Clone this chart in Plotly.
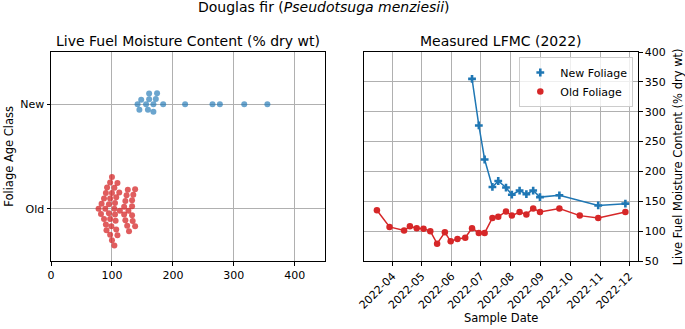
import numpy as np
import plotly.graph_objects as go

# ---------------- data ----------------
categories = ["Old", "New"]

new_swarm = [142, 145, 148, 156, 159, 161, 161, 168, 168, 172, 174, 184,
             220, 265, 277, 317, 355]
old_swarm = [78, 82, 83, 87, 87, 89, 90, 90, 91, 92, 95, 95, 97, 97, 97, 97,
             99, 100, 100, 100, 104, 104, 104, 105, 105, 106, 107, 107, 109,
             109, 112, 113, 120, 120, 122, 122, 124, 125, 126, 127, 128, 133,
             133, 133, 134, 135, 138, 138]

new_dates = ["2022-06-22", "2022-06-29", "2022-07-05", "2022-07-13", "2022-07-19",
             "2022-07-27", "2022-08-02", "2022-08-10", "2022-08-17", "2022-08-24",
             "2022-08-31", "2022-09-20", "2022-10-30", "2022-11-27"]
new_lfmc = [355, 277, 220, 174, 184, 173, 161, 168, 162, 168, 157, 160, 143, 146]

old_dates = ["2022-03-16", "2022-03-29", "2022-04-13", "2022-04-19", "2022-04-26",
             "2022-05-03", "2022-05-10", "2022-05-17", "2022-05-25", "2022-05-31",
             "2022-06-07", "2022-06-15", "2022-06-22", "2022-06-29", "2022-07-05",
             "2022-07-13", "2022-07-19", "2022-07-27", "2022-08-02", "2022-08-10",
             "2022-08-17", "2022-08-24", "2022-08-31", "2022-09-20", "2022-10-11",
             "2022-10-30", "2022-11-27"]
old_lfmc = [135, 107, 101, 108, 105, 104, 100, 79, 98, 83, 87, 89, 105, 97, 97,
            122, 124, 133, 126, 132, 128, 138, 132, 138, 126, 122, 132]

# ---------------- swarm layout (computed) ----------------
X_PX_PER_UNIT = 274.3 / 450.0
Y_PX_PER_UNIT = 209.0 / 2.0
DIAM = 5.8


def beeswarm(values, d=DIAM):
    vals = np.asarray(values, dtype=float)
    order = np.argsort(vals, kind="stable")
    placed = []
    offs = np.zeros(len(vals))
    for i in order:
        x = vals[i] * X_PX_PER_UNIT
        nb = [(px, py) for px, py in placed if abs(px - x) < d]
        cands = [0.0]
        for px, py in nb:
            dy = np.sqrt(max(d * d - (px - x) ** 2, 0.0))
            cands += [py + dy, py - dy]
        cands.sort(key=lambda c: abs(c))
        chosen = cands[-1]
        for c in cands:
            if all((px - x) ** 2 + (py - c) ** 2 >= d * d - 1e-6 for px, py in nb):
                chosen = c
                break
        placed.append((x, chosen))
        offs[i] = -chosen / Y_PX_PER_UNIT
    return offs


new_y = 1 + beeswarm(new_swarm)
old_y = 0 + beeswarm(old_swarm)

BLUE = "#1f77b4"
RED = "#d62728"
FONT = "DejaVu Sans"

fig = go.Figure()

fig.add_trace(go.Scatter(x=old_swarm, y=old_y, mode="markers", xaxis="x", yaxis="y",
                         marker=dict(color="rgba(214,39,40,0.75)", size=6, line=dict(width=0)),
                         showlegend=False, hoverinfo="x"))
fig.add_trace(go.Scatter(x=new_swarm, y=new_y, mode="markers", xaxis="x", yaxis="y",
                         marker=dict(color="rgba(31,119,180,0.66)", size=6, line=dict(width=0)),
                         showlegend=False, hoverinfo="x"))

fig.add_trace(go.Scatter(x=new_dates, y=new_lfmc, mode="lines+markers", xaxis="x2", yaxis="y2",
                         line=dict(color=BLUE, width=1.5),
                         marker=dict(symbol="cross", color=BLUE, size=6.5),
                         showlegend=False))
fig.add_trace(go.Scatter(x=old_dates, y=old_lfmc, mode="lines+markers", xaxis="x2", yaxis="y2",
                         line=dict(color=RED, width=1.5),
                         marker=dict(symbol="circle", color=RED, size=6.5),
                         showlegend=False))
# legend entries (marker only)
fig.add_trace(go.Scatter(x=[None], y=[None], mode="markers", xaxis="x2", yaxis="y2",
                         marker=dict(symbol="cross", color=BLUE, size=6.5), name="New Foliage"))
fig.add_trace(go.Scatter(x=[None], y=[None], mode="markers", xaxis="x2", yaxis="y2",
                         marker=dict(symbol="circle", color=RED, size=6.5), name="Old Foliage"))

W, H = 685, 329
ML, MR, MT, MB = 50.7, 47.3, 52, 68
pw = W - ML - MR
ph = H - MT - MB


def fx(px):
    return (px - ML) / pw


def fy(py):
    return 1 - (py - MT) / ph


def cl(v):
    return min(max(v, 0.0), 1.0)


axis_common = dict(showline=True, mirror=True, linecolor="black", linewidth=1,
                   ticks="outside", ticklen=3.5, tickcolor="black", tickwidth=0.8,
                   showgrid=True, gridcolor="#b0b0b0", gridwidth=0.8, zeroline=False,
                   automargin=False,
                   tickfont=dict(family=FONT, size=11, color="black"))

fig.update_layout(
    width=W, height=H,
    margin=dict(l=ML, r=MR, t=MT, b=MB, autoexpand=False),
    paper_bgcolor="white", plot_bgcolor="white",
    font=dict(family=FONT, size=11, color="black"),
    xaxis=dict(domain=[cl(fx(50.7)), cl(fx(325))], range=[0, 450], tickvals=[0, 100, 200, 300, 400],
               anchor="y", **axis_common),
    yaxis=dict(domain=[cl(fy(261)), cl(fy(52))], range=[-0.5, 1.5], tickvals=[0, 1], ticktext=categories,
               anchor="x", **axis_common),
    xaxis2=dict(domain=[cl(fx(364)), cl(fx(637.7))], type="date", range=["2022-03-03", "2022-12-10"],
                tick0="2022-04-01", dtick="M1", tickformat="%Y-%m", tickangle=-45,
                anchor="y2", **axis_common),
    yaxis2=dict(domain=[cl(fy(261)), cl(fy(52))], range=[50, 400], tickvals=list(range(50, 401, 50)),
                side="right", anchor="x2", **axis_common),
    legend=dict(x=fx(633), y=fy(57), xanchor="right", yanchor="top",
                bgcolor="rgba(255,255,255,0.8)", bordercolor="#cccccc", borderwidth=1,
                font=dict(family=FONT, size=11), itemwidth=30, tracegroupgap=0),
    showlegend=True,
    annotations=[
        dict(text="Douglas fir (<i>Pseudotsuga menziesii</i>)", x=fx(324), y=fy(7),
             xref="paper", yref="paper", showarrow=False, xanchor="center", yanchor="middle",
             font=dict(family=FONT, size=14)),
        dict(text="Live Fuel Moisture Content (% dry wt)", x=fx(187.5), y=fy(41),
             xref="paper", yref="paper", showarrow=False, xanchor="center", yanchor="middle",
             font=dict(family=FONT, size=14)),
        dict(text="Measured LFMC (2022)", x=fx(501), y=fy(41),
             xref="paper", yref="paper", showarrow=False, xanchor="center", yanchor="middle",
             font=dict(family=FONT, size=14)),
        dict(text="Foliage Age Class", x=fx(8), y=fy(156.5), textangle=-90,
             xref="paper", yref="paper", showarrow=False, xanchor="center", yanchor="middle",
             font=dict(family=FONT, size=11.5)),
        dict(text="Live Fuel Moisture Content (% dry wt)", x=fx(678), y=fy(157), textangle=-90,
             xref="paper", yref="paper", showarrow=False, xanchor="center", yanchor="middle",
             font=dict(family=FONT, size=11.5)),
        dict(text="Sample Date", x=fx(501), y=fy(318),
             xref="paper", yref="paper", showarrow=False, xanchor="center", yanchor="middle",
             font=dict(family=FONT, size=11.5)),
    ],
)

fig.write_html("out.html", config={"displayModeBar": False},
               post_script="document.body.style.margin='0';document.body.style.overflow='hidden';")
